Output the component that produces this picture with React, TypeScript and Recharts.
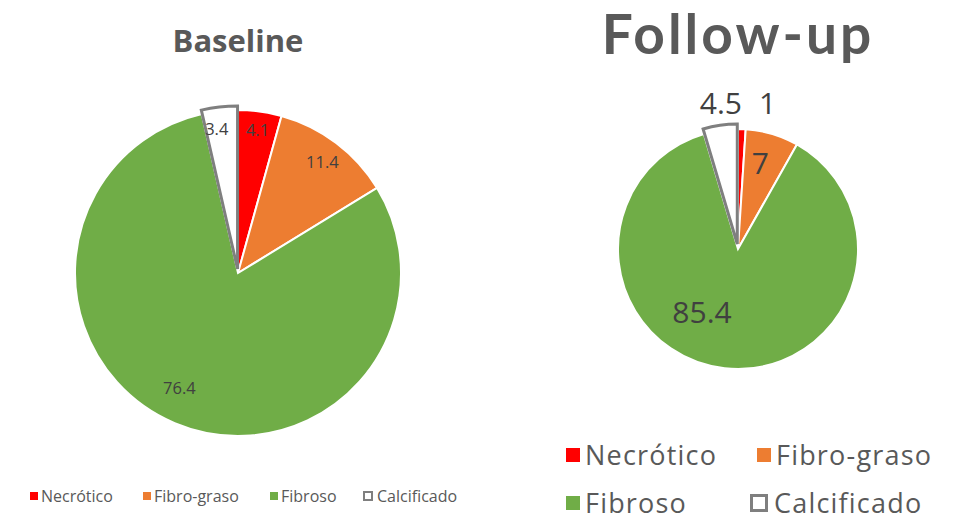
import React from 'react';
import { PieChart, Pie, Cell } from 'recharts';

const categories = ['Necrótico', 'Fibro-graso', 'Fibroso', 'Calcificado'];
const baselineValues = [4.1, 11.4, 76.4, 3.4];
const followUpValues = [1, 7, 85.4, 4.5];
const colors = ['#FF0000', '#ED7D31', '#70AD47', '#FFFFFF'];

const FONT = '"Open Sans", "Noto Sans", sans-serif';
const RAD = Math.PI / 180;

const baselineData = categories.map((name, i) => ({ name, value: baselineValues[i] }));
const followUpData = categories.map((name, i) => ({ name, value: followUpValues[i] }));

// offset of the exploded (last) slice, along its bisector
function explodeOffset(values: number[], dist: number) {
  const total = values.reduce((a, b) => a + b, 0);
  const before = values.slice(0, -1).reduce((a, b) => a + b, 0);
  const mid = 90 - (360 * (before + values[values.length - 1] / 2)) / total;
  return { dx: dist * Math.cos(mid * RAD), dy: -dist * Math.sin(mid * RAD) };
}

function makeLabel(rf: number[], shift: number[][], fontSize: number) {
  return (p: any) => {
    const r = p.outerRadius * rf[p.index];
    const x = p.cx + r * Math.cos(-p.midAngle * RAD) + shift[p.index][0];
    const y = p.cy + r * Math.sin(-p.midAngle * RAD) + shift[p.index][1];
    return (
      <text x={x} y={y} fill="#404040" fontSize={fontSize} fontFamily={FONT}
        textAnchor="middle" dominantBaseline="central">
        {p.value}
      </text>
    );
  };
}

// legend item positions: [left, centerY]
const baselineLegendPos = [[30, 496], [143, 496], [270, 496], [363, 496]];
const followUpLegendPos = [[566, 455], [757, 455], [566, 503], [750, 503]];

const LegendItems = ({ pos, size, hollow, font, spacing }: any) => {
  const lh = Math.round(font * 1.1);
  return (
    <>
      {categories.map((c, i) => {
        const s = i === 3 ? hollow : size;
        return (
          <div key={c} style={{
            position: 'absolute', left: pos[i][0], top: pos[i][1] - lh / 2, height: lh, lineHeight: `${lh}px`,
            display: 'flex', alignItems: 'center', whiteSpace: 'nowrap',
            fontFamily: FONT, fontSize: font, color: '#595959', letterSpacing: spacing,
          }}>
            <span style={{
              display: 'inline-block', width: s, height: s, marginRight: Math.round(s * 0.35),
              background: colors[i], boxSizing: 'border-box',
              border: i === 3 ? `${Math.max(2, Math.round(s / 6))}px solid #7F7F7F` : 'none',
            }} />
            {c}
          </div>
        );
      })}
    </>
  );
};

export default function App() {
  const bOff = explodeOffset(baselineValues, 4);
  const fOff = explodeOffset(followUpValues, 5);
  return (
    <div style={{ position: 'absolute', left: 0, top: 0, width: 954, height: 523, background: '#fff', overflow: 'hidden' }}>
      <div style={{ position: 'absolute', left: 38, width: 400, top: 20, textAlign: 'center', lineHeight: '40px',
        fontFamily: FONT, fontWeight: 700, fontSize: 31, color: '#595959' }}>Baseline</div>
      <div style={{ position: 'absolute', left: 538, width: 400, top: 0, textAlign: 'center', lineHeight: 'normal',
        fontFamily: 'Lato, "Open Sans", sans-serif', fontWeight: 700, fontSize: 55, color: '#595959', letterSpacing: 3 }}>Follow-up</div>
      <div style={{ position: 'absolute', left: 0, top: 0 }}>
        <PieChart width={954} height={523} margin={{ top: 0, right: 0, bottom: 0, left: 0 }}>
          <Pie data={baselineData} dataKey="value" cx={238} cy={273} outerRadius={163}
            startAngle={90} endAngle={-270} isAnimationActive={false} labelLine={false}
            label={makeLabel([0.89, 0.86, 0.8, 0.89], [[0, 0], [0, 0], [-8, -6], [-5, 0]], 16.5)}>
            {baselineData.map((d, i) => (
              <Cell key={d.name} fill={i === 3 ? 'none' : colors[i]} stroke={i === 3 ? 'none' : '#fff'} strokeWidth={2} />
            ))}
          </Pie>
          <Pie data={baselineData} dataKey="value" cx={238 + bOff.dx} cy={273 + bOff.dy} outerRadius={163}
            startAngle={90} endAngle={-270} isAnimationActive={false} label={false}>
            {baselineData.map((d, i) => (
              <Cell key={d.name} fill={i === 3 ? colors[i] : 'none'} stroke={i === 3 ? '#7F7F7F' : 'none'} strokeWidth={3} />
            ))}
          </Pie>
          <Pie data={followUpData} dataKey="value" cx={738} cy={249} outerRadius={120}
            startAngle={90} endAngle={-270} isAnimationActive={false} labelLine={false}
            label={makeLabel([1.22, 0.74, 0.52, 1.22], [[25, 0], [-3, -1], [-29, 0], [4, -2]], 30)}>
            {followUpData.map((d, i) => (
              <Cell key={d.name} fill={i === 3 ? 'none' : colors[i]} stroke={i === 3 ? 'none' : '#fff'} strokeWidth={2} />
            ))}
          </Pie>
          <Pie data={followUpData} dataKey="value" cx={738 + fOff.dx} cy={249 + fOff.dy} outerRadius={120}
            startAngle={90} endAngle={-270} isAnimationActive={false} label={false}>
            {followUpData.map((d, i) => (
              <Cell key={d.name} fill={i === 3 ? colors[i] : 'none'} stroke={i === 3 ? '#7F7F7F' : 'none'} strokeWidth={3} />
            ))}
          </Pie>
        </PieChart>
      </div>
      <LegendItems pos={baselineLegendPos} size={8} hollow={10} font={16} spacing={0} />
      <LegendItems pos={followUpLegendPos} size={14} hollow={18} font={27} spacing={1.2} />
    </div>
  );
}
